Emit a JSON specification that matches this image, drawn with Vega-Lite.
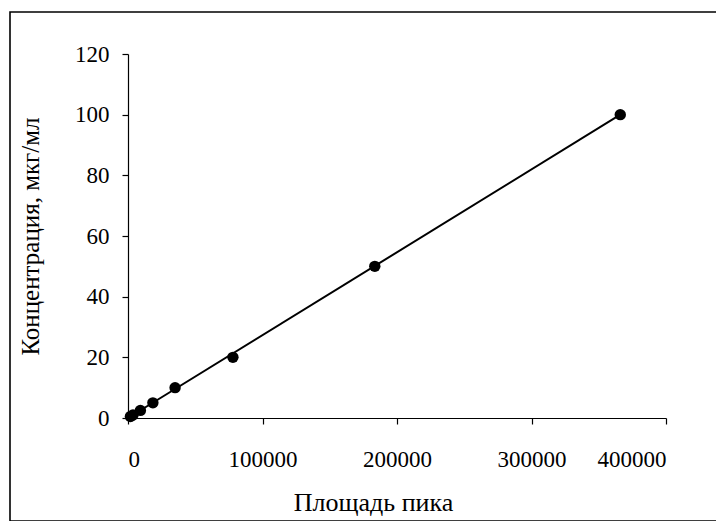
{
  "$schema": "https://vega.github.io/schema/vega-lite/v6.json",
  "autosize": "none",
  "padding": {"left": 10, "top": 12, "right": 0, "bottom": 0},
  "width": 760,
  "height": 509,
  "background": "white",
  "config": {
    "view": {"stroke": "black", "strokeWidth": 1.6},
    "font": "Liberation Serif",
    "axis": {
      "grid": false,
      "domainColor": "black",
      "domainWidth": 1.2,
      "tickColor": "black",
      "tickWidth": 1.2,
      "tickSize": 6,
      "labelFont": "Liberation Serif",
      "labelFontSize": 23,
      "labelColor": "black",
      "titleFont": "Liberation Serif",
      "titleFontSize": 25,
      "titleFontWeight": "normal",
      "titleColor": "black"
    }
  },
  "datasets": {
    "calibration": [
      {"area": 1800, "conc": 0.5},
      {"area": 3700, "conc": 1},
      {"area": 9200, "conc": 2.5},
      {"area": 18500, "conc": 5},
      {"area": 35000, "conc": 10},
      {"area": 78000, "conc": 20},
      {"area": 183500, "conc": 50},
      {"area": 366000, "conc": 100}
    ],
    "fit": [
      {"area": 0, "conc": 0},
      {"area": 366000, "conc": 100}
    ]
  },
  "layer": [
    {
      "data": {"name": "fit"},
      "mark": {"type": "line", "color": "black", "strokeWidth": 2},
      "encoding": {
        "x": {"field": "area", "type": "quantitative"},
        "y": {"field": "conc", "type": "quantitative"}
      }
    },
    {
      "data": {"name": "calibration"},
      "mark": {"type": "point", "filled": true, "color": "black", "opacity": 1, "size": 130},
      "encoding": {
        "x": {
          "field": "area",
          "type": "quantitative",
          "scale": {"domain": [0, 400000], "range": [118, 656], "nice": false},
          "axis": {
            "values": [0, 100000, 200000, 300000, 400000],
            "format": "d",
            "offset": -103,
            "labelPadding": 24,
            "title": "Площадь пика",
            "titleFontSize": 26,
            "titleX": 363,
            "titlePadding": 18
          }
        },
        "y": {
          "field": "conc",
          "type": "quantitative",
          "scale": {"domain": [0, 120], "range": [406, 42], "nice": false},
          "axis": {
            "values": [0, 20, 40, 60, 80, 100, 120],
            "offset": -118,
            "labelPadding": 13,
            "title": "Концентрация, мкг/мл",
            "titlePadding": 31
          }
        }
      }
    }
  ]
}
